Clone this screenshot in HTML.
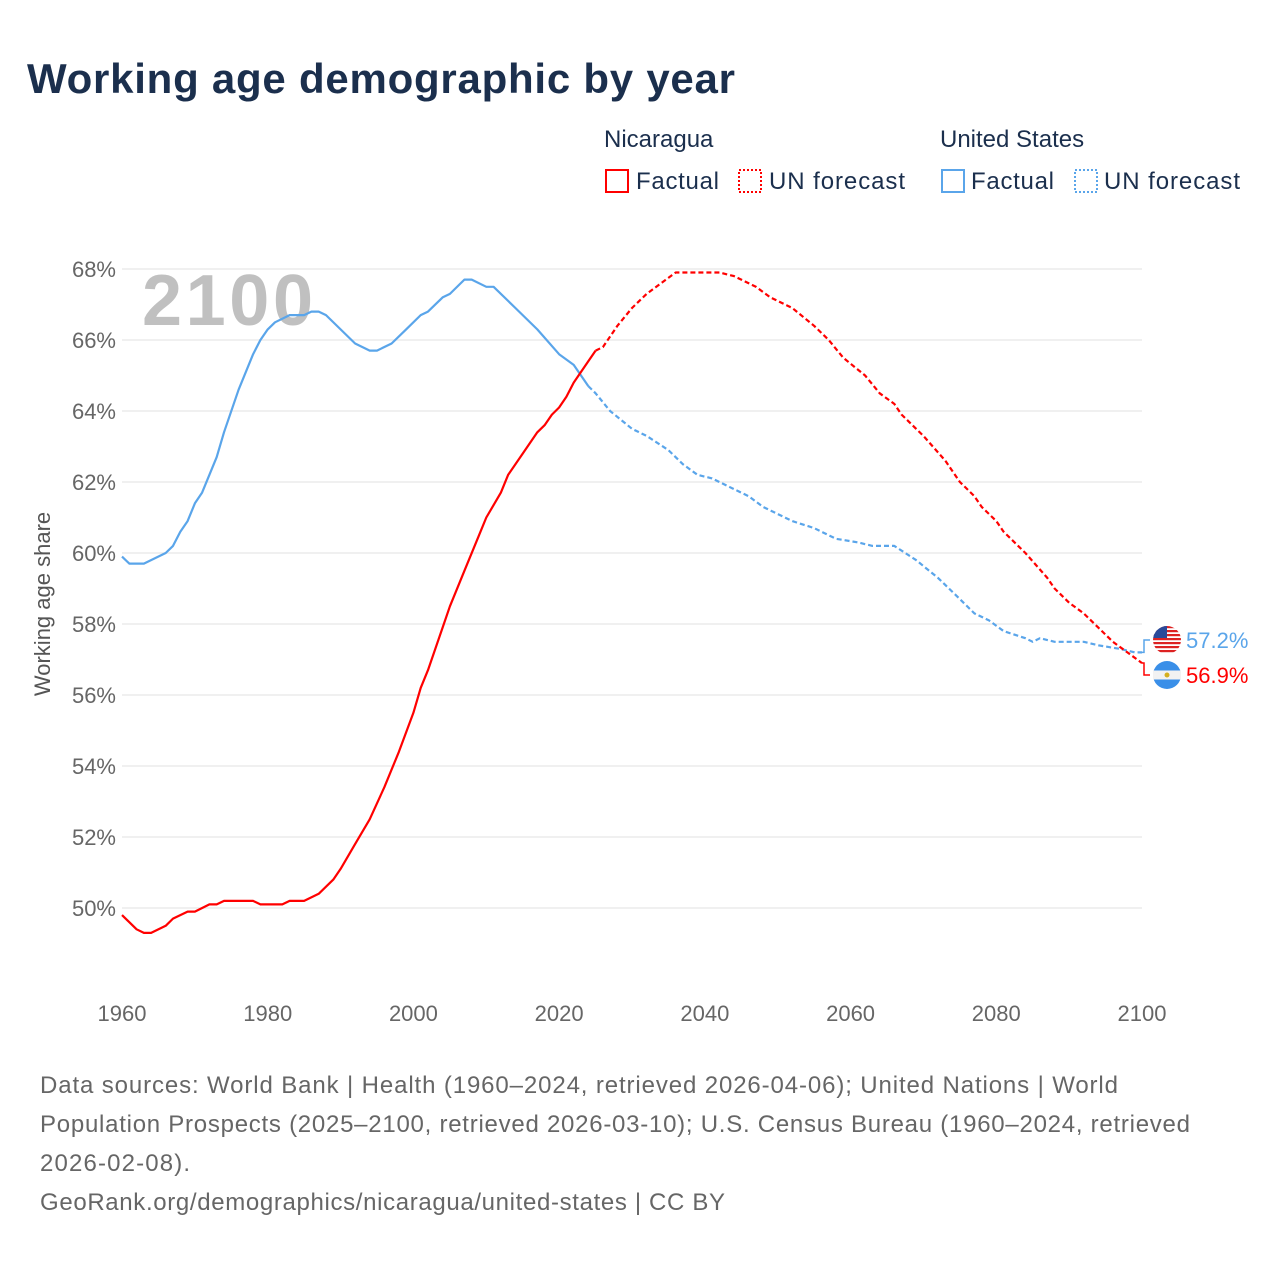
<!DOCTYPE html>
<html><head><meta charset="utf-8"><style>
body{margin:0;background:#fff;font-family:"Liberation Sans",sans-serif;}
#wrap{position:relative;width:1280px;height:1280px;overflow:hidden;}
</style></head><body>
<div id="wrap">
<svg id="chart" width="1280" height="1280" xmlns="http://www.w3.org/2000/svg">
<text x="27" y="93" font-size="42" font-weight="bold" fill="#1b2f4d" textLength="708" lengthAdjust="spacing">Working age demographic by year</text>
<g font-size="24" fill="#1b2f4d">
 <text x="604" y="147">Nicaragua</text>
 <text x="940" y="147">United States</text>
 <rect x="606" y="170" width="22" height="22" fill="none" stroke="#f00" stroke-width="2"/>
 <text x="636" y="189" textLength="83" lengthAdjust="spacing">Factual</text>
 <rect x="739" y="170" width="22" height="22" fill="none" stroke="#f00" stroke-width="2" stroke-dasharray="2,2"/>
 <text x="769" y="189" textLength="136" lengthAdjust="spacing">UN forecast</text>
 <rect x="942" y="170" width="22" height="22" fill="none" stroke="#5aa5ea" stroke-width="2"/>
 <text x="971" y="189" textLength="83" lengthAdjust="spacing">Factual</text>
 <rect x="1075" y="170" width="22" height="22" fill="none" stroke="#5aa5ea" stroke-width="2" stroke-dasharray="2,2"/>
 <text x="1104" y="189" textLength="136" lengthAdjust="spacing">UN forecast</text>
</g>
<g id="grid"></g>
<text x="142" y="325" font-size="72" font-weight="bold" fill="#c0c0c0" textLength="171" lengthAdjust="spacing">2100</text>
<text transform="translate(50,604) rotate(-90)" text-anchor="middle" font-size="22" fill="#555">Working age share</text>
<g id="lines"></g>
<g id="ends"></g>
<g font-size="24" fill="#666">
 <text x="40" y="1093" textLength="1078" lengthAdjust="spacing">Data sources: World Bank | Health (1960–2024, retrieved 2026-04-06); United Nations | World</text>
 <text x="40" y="1132" textLength="1150" lengthAdjust="spacing">Population Prospects (2025–2100, retrieved 2026-03-10); U.S. Census Bureau (1960–2024, retrieved</text>
 <text x="40" y="1171" textLength="150" lengthAdjust="spacing">2026-02-08).</text>
 <text x="40" y="1210" textLength="685" lengthAdjust="spacing">GeoRank.org/demographics/nicaragua/united-states | CC BY</text>
</g>
</svg>
</div>
<script>
const yTicks=[50,52,54,56,58,60,62,64,66,68];
const xTicks=[1960,1980,2000,2020,2040,2060,2080,2100];
const nicFactYears=[1960,1962,1963,1964,1966,1967,1969,1970,1972,1973,1974,1978,1979,1982,1983,1985,1987,1989,1990,1992,1994,1996,1998,2000,2001,2002,2004,2005,2007,2009,2010,2012,2013,2015,2017,2018,2019,2020,2021,2022,2024,2025];
const nicFactValues=[49.8,49.4,49.3,49.3,49.5,49.7,49.9,49.9,50.1,50.1,50.2,50.2,50.1,50.1,50.2,50.2,50.4,50.8,51.1,51.8,52.5,53.4,54.4,55.5,56.2,56.7,57.9,58.5,59.5,60.5,61.0,61.7,62.2,62.8,63.4,63.6,63.9,64.1,64.4,64.8,65.4,65.7];
const nicFcYears=[2025,2026,2028,2030,2032,2034,2036,2042,2044,2047,2049,2052,2055,2057,2059,2062,2064,2066,2067,2070,2073,2075,2077,2078,2080,2081,2084,2087,2088,2090,2092,2094,2096,2098,2100];
const nicFcValues=[65.7,65.8,66.4,66.9,67.3,67.6,67.9,67.9,67.8,67.5,67.2,66.9,66.4,66.0,65.5,65.0,64.5,64.2,63.9,63.3,62.6,62.0,61.6,61.3,60.9,60.6,60.0,59.3,59.0,58.6,58.3,57.9,57.5,57.2,56.9];
const usFactYears=[1960,1961,1962,1963,1966,1967,1968,1969,1970,1971,1973,1974,1976,1978,1979,1980,1981,1983,1985,1986,1987,1988,1990,1992,1994,1995,1997,1999,2001,2002,2004,2005,2007,2008,2010,2011,2014,2017,2020,2022,2024];
const usFactValues=[59.9,59.7,59.7,59.7,60.0,60.2,60.6,60.9,61.4,61.7,62.7,63.4,64.6,65.6,66.0,66.3,66.5,66.7,66.7,66.8,66.8,66.7,66.3,65.9,65.7,65.7,65.9,66.3,66.7,66.8,67.2,67.3,67.7,67.7,67.5,67.5,66.9,66.3,65.6,65.3,64.7];
const usFcYears=[2024,2025,2027,2030,2032,2035,2037,2039,2041,2043,2046,2048,2052,2055,2058,2061,2063,2066,2069,2072,2075,2077,2079,2081,2084,2085,2086,2088,2092,2094,2097,2099,2100];
const usFcValues=[64.7,64.5,64.0,63.5,63.3,62.9,62.5,62.2,62.1,61.9,61.6,61.3,60.9,60.7,60.4,60.3,60.2,60.2,59.8,59.3,58.7,58.3,58.1,57.8,57.6,57.5,57.6,57.5,57.5,57.4,57.3,57.2,57.2];

const X0=122,X1=1142,Y50=908,PX=35.5;
function xs(yr){return X0+(yr-1960)*(X1-X0)/140;}
function ys(v){return Y50-(v-50)*PX;}
const NS='http://www.w3.org/2000/svg';
function mk(t,a,p){const e=document.createElementNS(NS,t);for(const k in a)e.setAttribute(k,a[k]);p.appendChild(e);return e;}
const grid=document.getElementById('grid');
yTicks.forEach(v=>{
 const l=mk('line',{x1:X0,x2:X1,y1:ys(v),y2:ys(v),stroke:'#ebebeb','stroke-width':1.5},grid);
 
 
 const t=mk('text',{x:116,y:ys(v)+8,'text-anchor':'end','font-size':22,fill:'#666'},grid);
 t.textContent=v+'%';
 
 
});
xTicks.forEach(yr=>{
 const t=mk('text',{x:xs(yr),y:1021,'text-anchor':'middle','font-size':22,fill:'#666'},grid);
 t.textContent=yr;
 
 
});
const lines=document.getElementById('lines');
function path(yrs,vals,color,dash,name){
 const d=yrs.map((y,i)=>(i?'L':'M')+xs(y).toFixed(1)+','+ys(vals[i]).toFixed(1)).join('');
 const p=mk('path',{d:d,fill:'none',stroke:color,'stroke-width':2.2,'stroke-linejoin':'round'},lines);
 if(dash)p.setAttribute('stroke-dasharray','5,3');
 
 
}
path(usFactYears,usFactValues,'#5aa5ea',false,'us-factual-line');
path(usFcYears,usFcValues,'#5aa5ea',true,'us-forecast-line');
path(nicFactYears,nicFactValues,'#f00',false,'nicaragua-factual-line');
path(nicFcYears,nicFcValues,'#f00',true,'nicaragua-forecast-line');

const ends=document.getElementById('ends');
const usEnd=usFcValues[usFcValues.length-1], nicEnd=nicFcValues[nicFcValues.length-1];
const usLY=640,nicLY=675;
mk('path',{d:`M${X1},${ys(usEnd)}L${X1+2},${ys(usEnd)}L${X1+2},${usLY}L${X1+8},${usLY}`,fill:'none',stroke:'#5aa5ea','stroke-width':1.5},ends);
mk('path',{d:`M${X1},${ys(nicEnd)}L${X1+2},${ys(nicEnd)}L${X1+2},${nicLY}L${X1+8},${nicLY}`,fill:'none',stroke:'#f00','stroke-width':1.5},ends);
const fu=mk('g',{},ends);


mk('clipPath',{id:'cu'},fu).appendChild(document.createElementNS(NS,'circle'));
const cu=document.querySelector('#cu circle');cu.setAttribute('cx',1167);cu.setAttribute('cy',usLY);cu.setAttribute('r',14);
const gu=mk('g',{'clip-path':'url(#cu)'},fu);
for(let i=0;i<7;i++)mk('rect',{x:1153,y:usLY-14+i*4,width:28,height:2.2,fill:'#d22'},gu);
mk('rect',{x:1153,y:usLY-14,width:14,height:12,fill:'#2a4a9a'},gu);
const fn=mk('g',{},ends);


mk('circle',{cx:1167,cy:nicLY,r:14,fill:'#3a8fe8'},fn);
mk('rect',{x:1153,y:nicLY-4.5,width:28,height:9,fill:'#f2f2f2'},fn);
mk('circle',{cx:1167,cy:nicLY,r:2.5,fill:'#d4b020'},fn);
const tu=mk('text',{x:1186,y:usLY+8,'font-size':22,fill:'#5aa5ea'},ends);
tu.textContent=usEnd.toFixed(1)+'%';


const tn=mk('text',{x:1186,y:nicLY+8,'font-size':22,fill:'#f00'},ends);
tn.textContent=nicEnd.toFixed(1)+'%';


</script>
</body></html>
